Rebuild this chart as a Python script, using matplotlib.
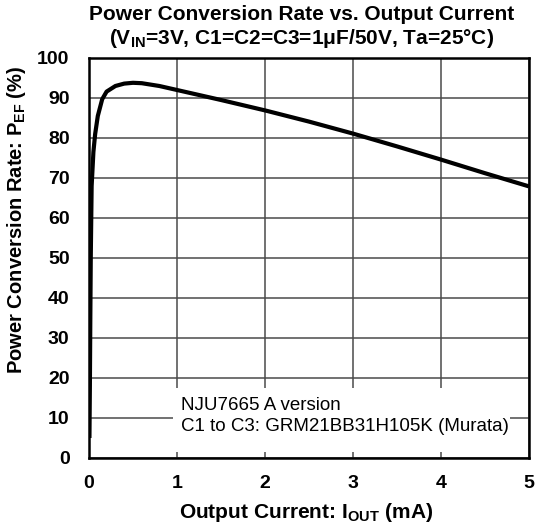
import matplotlib
matplotlib.use("Agg")
import matplotlib.pyplot as plt
from matplotlib.patches import Rectangle

plt.rcParams['font.family'] = ['Liberation Sans', 'DejaVu Sans']
plt.rcParams['mathtext.fontset'] = 'custom'
plt.rcParams['mathtext.rm'] = 'Liberation Sans:bold'
plt.rcParams['mathtext.it'] = 'Liberation Sans:bold'
plt.rcParams['mathtext.bf'] = 'Liberation Sans:bold'
plt.rcParams['mathtext.default'] = 'rm'

# Data
iout = [0.005, 0.01, 0.015, 0.02, 0.03, 0.05, 0.07, 0.1, 0.15, 0.2, 0.3, 0.4,
        0.5, 0.6, 0.8, 1.0, 1.5, 2.0, 2.5, 3.0, 3.5, 4.0, 4.5, 5.0]
eff = [5.0, 18.0, 35.0, 50.0, 68.0, 76.5, 81.0, 85.5, 89.7, 91.6, 93.0, 93.6,
       93.8, 93.7, 93.0, 92.0, 89.5, 86.9, 84.1, 81.1, 77.9, 74.6, 71.2, 67.9]
xticks = [0, 1, 2, 3, 4, 5]
yticks = [0, 10, 20, 30, 40, 50, 60, 70, 80, 90, 100]

fig = plt.figure(figsize=(5.36, 5.30), dpi=100)
ax = fig.add_axes([89/536, 1-458/530, 440/536, 400/530])

ax.set_xlim(0, 5)
ax.set_ylim(0, 100)
ax.set_xticks(xticks)
ax.set_yticks(yticks)
ax.set_xticklabels([str(t) for t in xticks], fontsize=14, fontweight='bold')
ax.set_yticklabels([str(t) for t in yticks], fontsize=14, fontweight='bold')
ax.tick_params(length=0)
ax.tick_params(axis='x', pad=12)
ax.tick_params(axis='y', pad=14)
ax.grid(True, color='#4a4a4a', linewidth=1.1, zorder=0)
ax.set_axisbelow(True)
for s in ax.spines.values():
    s.set_linewidth(1.8)
    s.set_color('black')

ax.plot(iout, eff, color='black', linewidth=3.0, zorder=3, solid_capstyle='butt')

ax.add_patch(Rectangle((0.95, 1.5), 3.83, 16, facecolor='white', edgecolor='none', zorder=2))
ax.text(1.05, 13.2, 'NJU7665 A version', fontsize=13.5, zorder=4, va='center', ha='left')
ax.text(1.05, 7.8, 'C1 to C3: GRM21BB31H105K (Murata)', fontsize=13.5, zorder=4, va='center', ha='left')

fig.text(302/536, 1-14/530, 'Power Conversion Rate vs. Output Current',
         fontsize=15, fontweight='bold', ha='center', va='center')
fig.text(302/536, 1-38/530, '(V$_{IN}$=3V, C1=C2=C3=1μF/50V, Ta=25°C)',
         fontsize=15, fontweight='bold', ha='center', va='center')
fig.text(306/536, 1-512/530, 'Output Current: I$_{OUT}$ (mA)',
         fontsize=15, fontweight='bold', ha='center', va='center')
fig.text(17/536, 1-220/530, 'Power Conversion Rate: P$_{EF}$ (%)',
         fontsize=14.5, fontweight='bold', ha='center', va='center', rotation=90)

fig.savefig('out.png', dpi=100)
